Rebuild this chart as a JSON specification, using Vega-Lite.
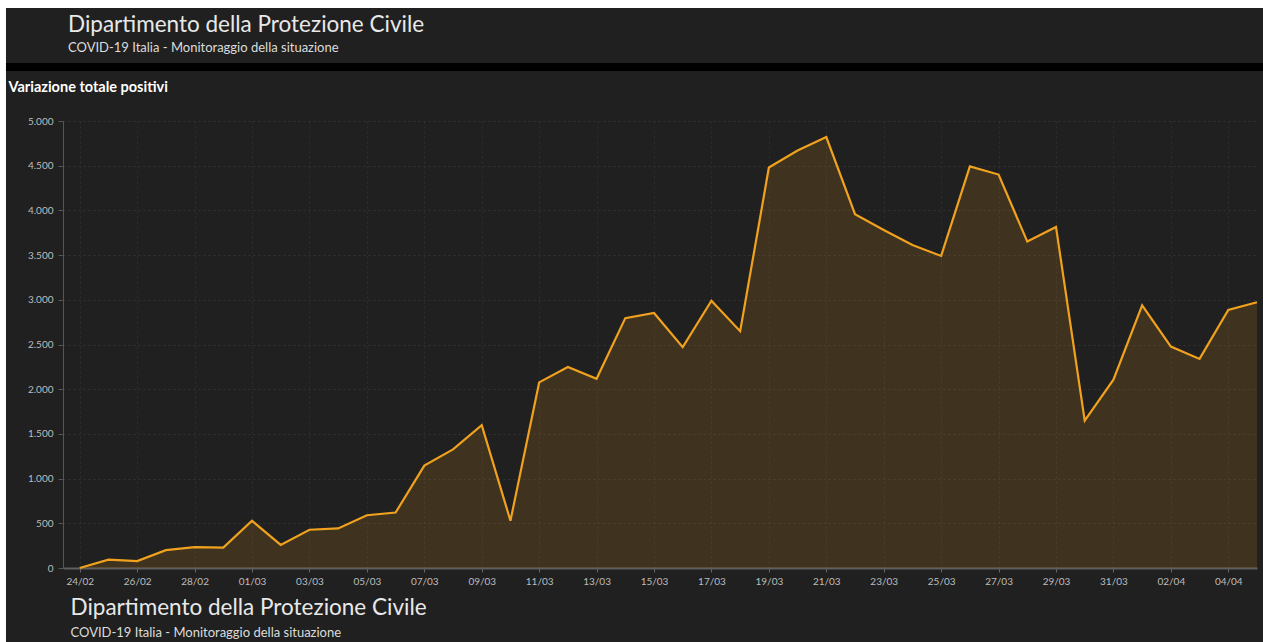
{
  "$schema": "https://vega.github.io/schema/vega-lite/v6.json",
  "width": 1194,
  "height": 447,
  "autosize": "none",
  "padding": {"left": 63, "top": 121, "right": 6, "bottom": 74},
  "background": "#202020",
  "config": {"view": {"stroke": null}, "font": "Lato"},
  "title": {
    "text": "Dipartimento della Protezione Civile",
    "subtitle": "COVID-19 Italia - Monitoraggio della situazione",
    "anchor": "start",
    "frame": "group",
    "dx": 5,
    "offset": -55,
    "font": "Lato",
    "fontSize": 22.5,
    "fontWeight": "normal",
    "color": "#e8e8e8",
    "subtitleFont": "Lato",
    "subtitleFontSize": 13,
    "subtitleColor": "#dcdcdc",
    "subtitlePadding": 5
  },
  "data": {
    "values": [
      {"data": "2020-02-24T00:00:00", "variazione": 0},
      {"data": "2020-02-25T00:00:00", "variazione": 93},
      {"data": "2020-02-26T00:00:00", "variazione": 78},
      {"data": "2020-02-27T00:00:00", "variazione": 200},
      {"data": "2020-02-28T00:00:00", "variazione": 233},
      {"data": "2020-02-29T00:00:00", "variazione": 228},
      {"data": "2020-03-01T00:00:00", "variazione": 528},
      {"data": "2020-03-02T00:00:00", "variazione": 258},
      {"data": "2020-03-03T00:00:00", "variazione": 428},
      {"data": "2020-03-04T00:00:00", "variazione": 443},
      {"data": "2020-03-05T00:00:00", "variazione": 590},
      {"data": "2020-03-06T00:00:00", "variazione": 620},
      {"data": "2020-03-07T00:00:00", "variazione": 1145},
      {"data": "2020-03-08T00:00:00", "variazione": 1326},
      {"data": "2020-03-09T00:00:00", "variazione": 1598},
      {"data": "2020-03-10T00:00:00", "variazione": 529},
      {"data": "2020-03-11T00:00:00", "variazione": 2076},
      {"data": "2020-03-12T00:00:00", "variazione": 2249},
      {"data": "2020-03-13T00:00:00", "variazione": 2116},
      {"data": "2020-03-14T00:00:00", "variazione": 2795},
      {"data": "2020-03-15T00:00:00", "variazione": 2853},
      {"data": "2020-03-16T00:00:00", "variazione": 2470},
      {"data": "2020-03-17T00:00:00", "variazione": 2989},
      {"data": "2020-03-18T00:00:00", "variazione": 2648},
      {"data": "2020-03-19T00:00:00", "variazione": 4480},
      {"data": "2020-03-20T00:00:00", "variazione": 4670},
      {"data": "2020-03-21T00:00:00", "variazione": 4821},
      {"data": "2020-03-22T00:00:00", "variazione": 3957},
      {"data": "2020-03-23T00:00:00", "variazione": 3780},
      {"data": "2020-03-24T00:00:00", "variazione": 3612},
      {"data": "2020-03-25T00:00:00", "variazione": 3491},
      {"data": "2020-03-26T00:00:00", "variazione": 4492},
      {"data": "2020-03-27T00:00:00", "variazione": 4401},
      {"data": "2020-03-28T00:00:00", "variazione": 3651},
      {"data": "2020-03-29T00:00:00", "variazione": 3815},
      {"data": "2020-03-30T00:00:00", "variazione": 1648},
      {"data": "2020-03-31T00:00:00", "variazione": 2107},
      {"data": "2020-04-01T00:00:00", "variazione": 2937},
      {"data": "2020-04-02T00:00:00", "variazione": 2477},
      {"data": "2020-04-03T00:00:00", "variazione": 2339},
      {"data": "2020-04-04T00:00:00", "variazione": 2886},
      {"data": "2020-04-05T00:00:00", "variazione": 2972}
    ]
  },
  "layer": [
    {
      "mark": {"type": "area", "color": "#f0a21e", "opacity": 0.15},
      "encoding": {
        "x": {
          "field": "data",
          "type": "temporal",
          "scale": {"domain": [{"year": 2020, "month": 2, "date": 23, "hours": 10}, {"year": 2020, "month": 4, "date": 5}]},
          "axis": {
            "values": [
              {"year": 2020, "month": 2, "date": 24},
              {"year": 2020, "month": 2, "date": 26},
              {"year": 2020, "month": 2, "date": 28},
              {"year": 2020, "month": 3, "date": 1},
              {"year": 2020, "month": 3, "date": 3},
              {"year": 2020, "month": 3, "date": 5},
              {"year": 2020, "month": 3, "date": 7},
              {"year": 2020, "month": 3, "date": 9},
              {"year": 2020, "month": 3, "date": 11},
              {"year": 2020, "month": 3, "date": 13},
              {"year": 2020, "month": 3, "date": 15},
              {"year": 2020, "month": 3, "date": 17},
              {"year": 2020, "month": 3, "date": 19},
              {"year": 2020, "month": 3, "date": 21},
              {"year": 2020, "month": 3, "date": 23},
              {"year": 2020, "month": 3, "date": 25},
              {"year": 2020, "month": 3, "date": 27},
              {"year": 2020, "month": 3, "date": 29},
              {"year": 2020, "month": 3, "date": 31},
              {"year": 2020, "month": 4, "date": 2},
              {"year": 2020, "month": 4, "date": 4}
            ],
            "format": "%d/%m",
            "labelFont": "Lato",
            "labelFontSize": 10,
            "labelColor": "#bdbdbd",
            "labelPadding": 4,
            "tickColor": "#666666",
            "tickSize": 4,
            "domainColor": "#5e5e5e",
            "domainWidth": 2,
            "gridColor": "#2e2e2e",
            "gridDash": [2, 3],
            "title": "Dipartimento della Protezione Civile",
            "titleFont": "Lato",
            "titleFontSize": 22.5,
            "titleFontWeight": "normal",
            "titleColor": "#e8e8e8",
            "titleX": 7,
            "titleY": 39,
            "titleAlign": "left",
            "titleBaseline": "middle"
          }
        },
        "y": {
          "field": "variazione",
          "type": "quantitative",
          "scale": {"domain": [0, 5000], "nice": false},
          "axis": {
            "values": [0, 500, 1000, 1500, 2000, 2500, 3000, 3500, 4000, 4500, 5000],
            "labelExpr": "replace(format(datum.value, ','), ',', '.')",
            "labelFont": "Lato",
            "labelFontSize": 10,
            "labelColor": "#bdbdbd",
            "labelPadding": 5,
            "tickSize": 5,
            "tickColor": "#555555",
            "domainColor": "#555555",
            "gridColor": "#333333",
            "gridDash": [2, 3],
            "title": "Variazione totale positivi",
            "titleAngle": 0,
            "titleX": -55,
            "titleY": -34,
            "titleAlign": "left",
            "titleBaseline": "middle",
            "titleFont": "Lato",
            "titleFontSize": 14.5,
            "titleFontWeight": "bold",
            "titleColor": "#ffffff"
          }
        }
      }
    },
    {
      "mark": {"type": "line", "color": "#f0a21e", "strokeWidth": 2.2},
      "encoding": {
        "x": {"field": "data", "type": "temporal"},
        "y": {
          "field": "variazione",
          "type": "quantitative",
          "axis": {
            "orient": "right",
            "labels": false,
            "ticks": false,
            "domain": false,
            "grid": false,
            "title": "COVID-19 Italia - Monitoraggio della situazione",
            "titleAngle": 0,
            "titleX": -1187,
            "titleY": 511,
            "titleAlign": "left",
            "titleBaseline": "middle",
            "titleFont": "Lato",
            "titleFontSize": 13,
            "titleFontWeight": "normal",
            "titleColor": "#dcdcdc"
          }
        }
      }
    },
    {
      "data": {"values": [{}]},
      "mark": {"type": "rule", "color": "#000000", "strokeWidth": 8},
      "encoding": {
        "x": {"datum": {"year": 2020, "month": 2, "date": 10}, "type": "temporal"},
        "x2": {"datum": {"year": 2020, "month": 4, "date": 20}},
        "y": {"datum": 5604, "type": "quantitative", "axis": null}
      }
    },
    {
      "data": {"values": [{}]},
      "mark": {"type": "rule", "color": "#ffffff", "strokeWidth": 8},
      "encoding": {
        "x": {"datum": {"year": 2020, "month": 2, "date": 10}, "type": "temporal"},
        "x2": {"datum": {"year": 2020, "month": 4, "date": 20}},
        "y": {"datum": 6309, "type": "quantitative", "axis": null}
      }
    },
    {
      "data": {"values": [{}]},
      "mark": {"type": "rule", "color": "#ffffff", "strokeWidth": 6},
      "encoding": {
        "x": {"datum": {"year": 2020, "month": 2, "date": 21, "hours": 7, "minutes": 50}, "type": "temporal"},
        "y": {"datum": 6309, "type": "quantitative", "axis": null},
        "y2": {"datum": -3000}
      }
    }
  ],
  "resolve": {"axis": {"y": "independent"}}
}
